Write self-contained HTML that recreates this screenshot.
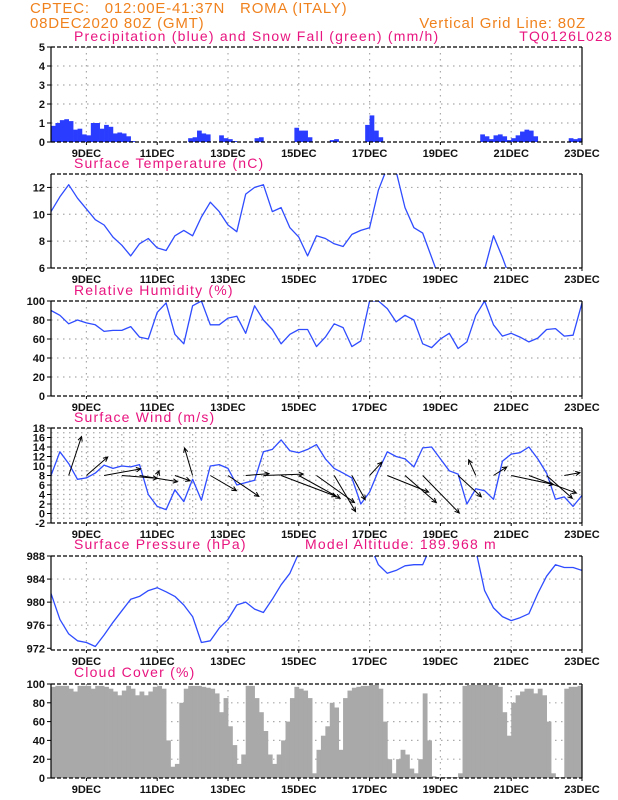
<!DOCTYPE html>
<html><head><meta charset="utf-8">
<style>
body{margin:0;background:#fff;}
svg{display:block;font-family:"Liberation Sans","DejaVu Sans",sans-serif;}
.tl{font-size:11px;fill:#111;font-weight:bold;}
.ttl{font-size:14px;fill:#e8147f;letter-spacing:1.2px;}
.hdr{font-size:15px;fill:#f0821e;letter-spacing:0.8px;}
</style></head>
<body>
<svg id="chart" width="618" height="800" viewBox="0 0 618 800" xmlns="http://www.w3.org/2000/svg">
<text class="hdr" x="30" y="13" xml:space="preserve">CPTEC:   012:00E-41:37N   ROMA (ITALY)</text>
<text class="hdr" x="30" y="28">08DEC2020 80Z (GMT)</text>
<text class="hdr" x="586" y="28" text-anchor="end">Vertical Grid Line: 80Z</text>
<text class="ttl" x="613" y="41" text-anchor="end">TQ0126L028</text>
<g id="layer"></g>
</svg>
<script>
// time: 6-hourly samples from 08DEC 00Z
const dayLabels=["9DEC","11DEC","13DEC","15DEC","17DEC","19DEC","21DEC","23DEC"];
const temperature=[10.2,11.3,12.2,11.2,10.4,9.6,9.2,8.3,7.7,6.9,7.8,8.2,7.5,7.3,8.4,8.8,8.4,9.8,10.9,10.2,9.2,8.7,11.5,12.0,12.2,10.2,10.5,9.0,8.3,6.9,8.4,8.2,7.8,7.6,8.5,8.8,9.0,11.8,13.5,13.2,10.5,9.0,8.6,6.8,5.0,4.5,4.0,4.5,5.0,5.9,8.4,6.8,5.0,4.5,4,4,4.5,5,4.5,4,4];
const humidity=[90,85,76,80,77,75,68,69,69,73,62,60,88,98,65,55,95,100,75,75,82,84,66,95,80,70,55,65,70,70,52,62,76,72,52,58,100,100,92,78,85,80,55,51,60,66,50,57,85,100,75,63,66,62,57,61,70,71,63,64,98];
const windSpeed=[8,13,10.5,7.2,7.5,8.5,10.2,9.5,10,9.8,10.3,4,1.5,0.8,5.0,2.5,7.2,2.8,10,10.3,9.5,6,6.5,7,13,13.5,15.5,13.2,12.8,13.5,14.5,11.5,9.5,8.5,7.5,2,4.5,9,13,12,11.5,9.8,13.8,14,11.5,9,8.3,2,5.2,4.8,3,11,12.5,12.8,14,11.5,8.5,3,3.5,1.5,3.8];
// 12-hourly wind vectors (m/s)
const windU=[0,2.7,4.5,7.7,7.5,8.0,0.4,3.2,-1.7,5.5,6.5,4.9,8.4,11.6,8.7,8.0,4.5,2.8,2.6,8.7,6.6,7.7,0,4.9,-1.5,2.8,8.9,10.0,5.4,3.3,0];
const windV=[0,8.2,3.9,1.4,-0.6,-1.3,1.0,-1.1,5.8,-3.2,-4.4,0.4,0.3,-4.4,-4.8,-5.7,-7.6,-5.1,2.8,-3.5,-5.7,-7.9,0,-4.5,3.3,1.8,-1.9,-3.7,-4.8,0.6,0];
const pressure=[981.5,977,974.5,973.3,973,972.3,974.3,976.5,978.5,980.5,981,982,982.5,981.8,981,979.5,977.5,973,973.3,975.5,977,979.5,980,978.8,978.2,980.5,983,985,988.5,990,992,993,993,992,992,991,990,986.5,985,985.5,986.3,986.5,986.5,990,992,992,991,990,989,982,979,977.5,976.8,977.3,978,981.5,984.5,986.5,986,986,985.5];
// 3-hourly bins
const precip=[0.85,1.0,1.15,1.2,1.1,0.65,0.7,0.4,0.35,1.0,1.0,0.7,0.9,0.8,0.45,0.5,0.45,0.3,0.05,0,0,0,0,0,0,0,0,0,0,0,0,0.2,0.25,0.6,0.45,0.4,0,0,0.35,0.2,0.15,0.05,0,0,0,0,0.2,0.25,0,0,0,0,0,0,0,0.75,0.6,0.6,0.25,0,0,0,0,0.1,0.15,0,0,0,0,0,0,0.9,1.4,0.6,0.25,0,0,0,0,0,0,0,0,0,0,0,0,0,0,0,0,0,0,0,0,0,0,0.4,0.3,0.15,0.35,0.4,0.3,0.1,0.2,0.35,0.55,0.65,0.6,0.3,0,0,0,0,0,0,0,0.2,0.15,0.2];
const cloud=[97,98,98,98,95,92,98,98,98,95,98,98,97,95,92,88,93,98,95,88,92,88,92,97,98,95,40,12,15,80,95,98,98,98,97,96,95,90,70,85,55,35,15,25,98,98,85,70,50,25,15,25,40,60,85,97,95,93,85,5,30,45,55,80,75,30,85,93,96,97,98,98,99,99,95,60,20,5,20,30,25,10,5,20,90,40,2,1,1,1,1,1,5,98,99,99,99,99,99,99,99,97,70,45,80,88,92,95,95,90,95,88,60,5,1,1,95,97,97,98];

const NS="http://www.w3.org/2000/svg";
const L=51,R=582,DAYS=15;
const layer=document.getElementById('layer');
function X(d){return L+(R-L)*d/DAYS;}
function mk(tag,attrs,parent){const e=document.createElementNS(NS,tag);for(const k in attrs)e.setAttribute(k,attrs[k]);(parent||layer).appendChild(e);return e;}

const panels=[
 {id:'precip',top:47,bot:142,min:0,max:5,ticks:[0,1,2,3,4,5],title:'Precipitation (blue) and Snow Fall (green) (mm/h)',tx:74,ty:41,hg:[1,2,3,4],vg:2},
 {id:'temp',top:174,bot:268,min:6,max:13,ticks:[6,8,10,12],title:'Surface Temperature (nC)',tx:74,ty:168,hg:[8,10,12],vg:2},
 {id:'rh',top:301,bot:396,min:0,max:100,ticks:[0,20,40,60,80,100],title:'Relative Humidity (%)',tx:74,ty:295,hg:[20,40,60,80],vg:2},
 {id:'wind',top:428,bot:523,min:-2,max:18,ticks:[-2,0,2,4,6,8,10,12,14,16,18],title:'Surface Wind (m/s)',tx:74,ty:422,hg:[-1,0,1,2,3,4,5,6,7,8,9,10,11,12,13,14,15,16,17],vg:1},
 {id:'pres',top:556,bot:650,min:971.7,max:988,ticks:[972,976,980,984,988],title:'Surface Pressure (hPa)',tx:74,ty:549,hg:[976,980,984],vg:2},
 {id:'cloud',top:684,bot:778,min:0,max:100,ticks:[0,20,40,60,80,100],title:'Cloud Cover (%)',tx:74,ty:677,hg:[20,40,60,80],vg:2}
];
function Yf(p){return v=>p.bot-(v-p.min)/(p.max-p.min)*(p.bot-p.top);}

panels.forEach(p=>{
  const Y=Yf(p);
  const g=mk('g',{});
  
  
  const cp=mk('clipPath',{id:'cp-'+p.id},g);
  mk('rect',{x:L,y:p.top,width:R-L,height:p.bot-p.top},cp);
  p.hg.forEach(v=>{const l=mk('line',{x1:L,x2:R,y1:Y(v),y2:Y(v),stroke:'#aaa','stroke-dasharray':'1.5,4.5','stroke-width':1.2},g);
    });
  for(let d=1;d<DAYS;d+=p.vg){const l=mk('line',{x1:X(d),x2:X(d),y1:p.top,y2:p.bot,stroke:'#aaa','stroke-dasharray':'1.5,4.5','stroke-width':1.2},g);
    }
  p.g=g;p.Y=Y;
});

(function(){const p=panels[0],Y=p.Y,w=(R-L)/precip.length;
 precip.forEach((v,i)=>{if(v<=0)return;const r=mk('rect',{x:L+i*w,y:Y(v),width:w+0.3,height:Y(0)-Y(v),fill:'#2a3cff'},p.g);
  });})();
(function(){const p=panels[5],Y=p.Y,w=(R-L)/cloud.length;
 cloud.forEach((v,i)=>{const r=mk('rect',{x:L+i*w,y:Y(v),width:w+0.4,height:Y(0)-Y(v),fill:'#a9a9a9'},p.g);
  });})();
function line(p,arr,name){const Y=p.Y;const pts=arr.map((v,i)=>X(i*0.25).toFixed(1)+','+Y(v).toFixed(1)).join(' ');
 const pl=mk('polyline',{points:pts,fill:'none',stroke:'#2f4cff','stroke-width':1.3,'clip-path':'url(#cp-'+p.id+')','stroke-linejoin':'round'},p.g);
 }
line(panels[1],temperature,'temperature-line');
line(panels[2],humidity,'humidity-line');
line(panels[3],windSpeed,'wind-speed-line');
line(panels[4],pressure,'pressure-line');
(function(){const p=panels[3],Y=p.Y,k=(p.bot-p.top)/(p.max-p.min);
 windU.forEach((u,i)=>{const v=windV[i];if(u===0&&v===0)return;
  const x0=X(i*0.5),y0=Y(8),x1=x0+u*k,y1=y0-v*k;
  const a=Math.atan2(y1-y0,x1-x0),h=5;
  const g=mk('g',{stroke:'#000','stroke-width':1,fill:'none'},p.g);
  
  mk('line',{x1:x0,y1:y0,x2:x1,y2:y1},g);
  mk('polyline',{points:(x1-h*Math.cos(a-0.45))+','+(y1-h*Math.sin(a-0.45))+' '+x1+','+y1+' '+(x1-h*Math.cos(a+0.45))+','+(y1-h*Math.sin(a+0.45))},g);
 });})();

panels.forEach(p=>{const Y=p.Y,g=p.g;
  mk('line',{x1:L,x2:L,y1:p.top,y2:p.bot,stroke:'#000','stroke-width':1.2},g);
  mk('line',{x1:R,x2:R,y1:p.top,y2:p.bot,stroke:'#000','stroke-width':1.2},g);
  mk('line',{x1:L,x2:R,y1:p.top,y2:p.top,stroke:'#000','stroke-width':1.2,'stroke-dasharray':'4,2'},g);
  mk('line',{x1:L,x2:R,y1:p.bot,y2:p.bot,stroke:'#000','stroke-width':1.2,'stroke-dasharray':'4,2'},g);
  p.ticks.forEach(v=>{mk('line',{x1:L-4,x2:L,y1:Y(v),y2:Y(v),stroke:'#000'},g);
    const t=mk('text',{x:L-6,y:Y(v)+4,'text-anchor':'end',class:'tl'},g);t.textContent=v;
    });
  dayLabels.forEach((s,i)=>{const x=X(1+2*i);mk('line',{x1:x,x2:x,y1:p.bot,y2:p.bot+3,stroke:'#000'},g);
    const t=mk('text',{x:x,y:p.bot+15,'text-anchor':'middle',class:'tl'},g);t.textContent=s;
    });
  const t=mk('text',{x:p.tx,y:p.ty,class:'ttl'},g);t.textContent=p.title;
  
});
const ma=mk('text',{x:305,y:549,class:'ttl'});ma.textContent='Model Altitude: 189.968 m';


</script>
</body></html>
